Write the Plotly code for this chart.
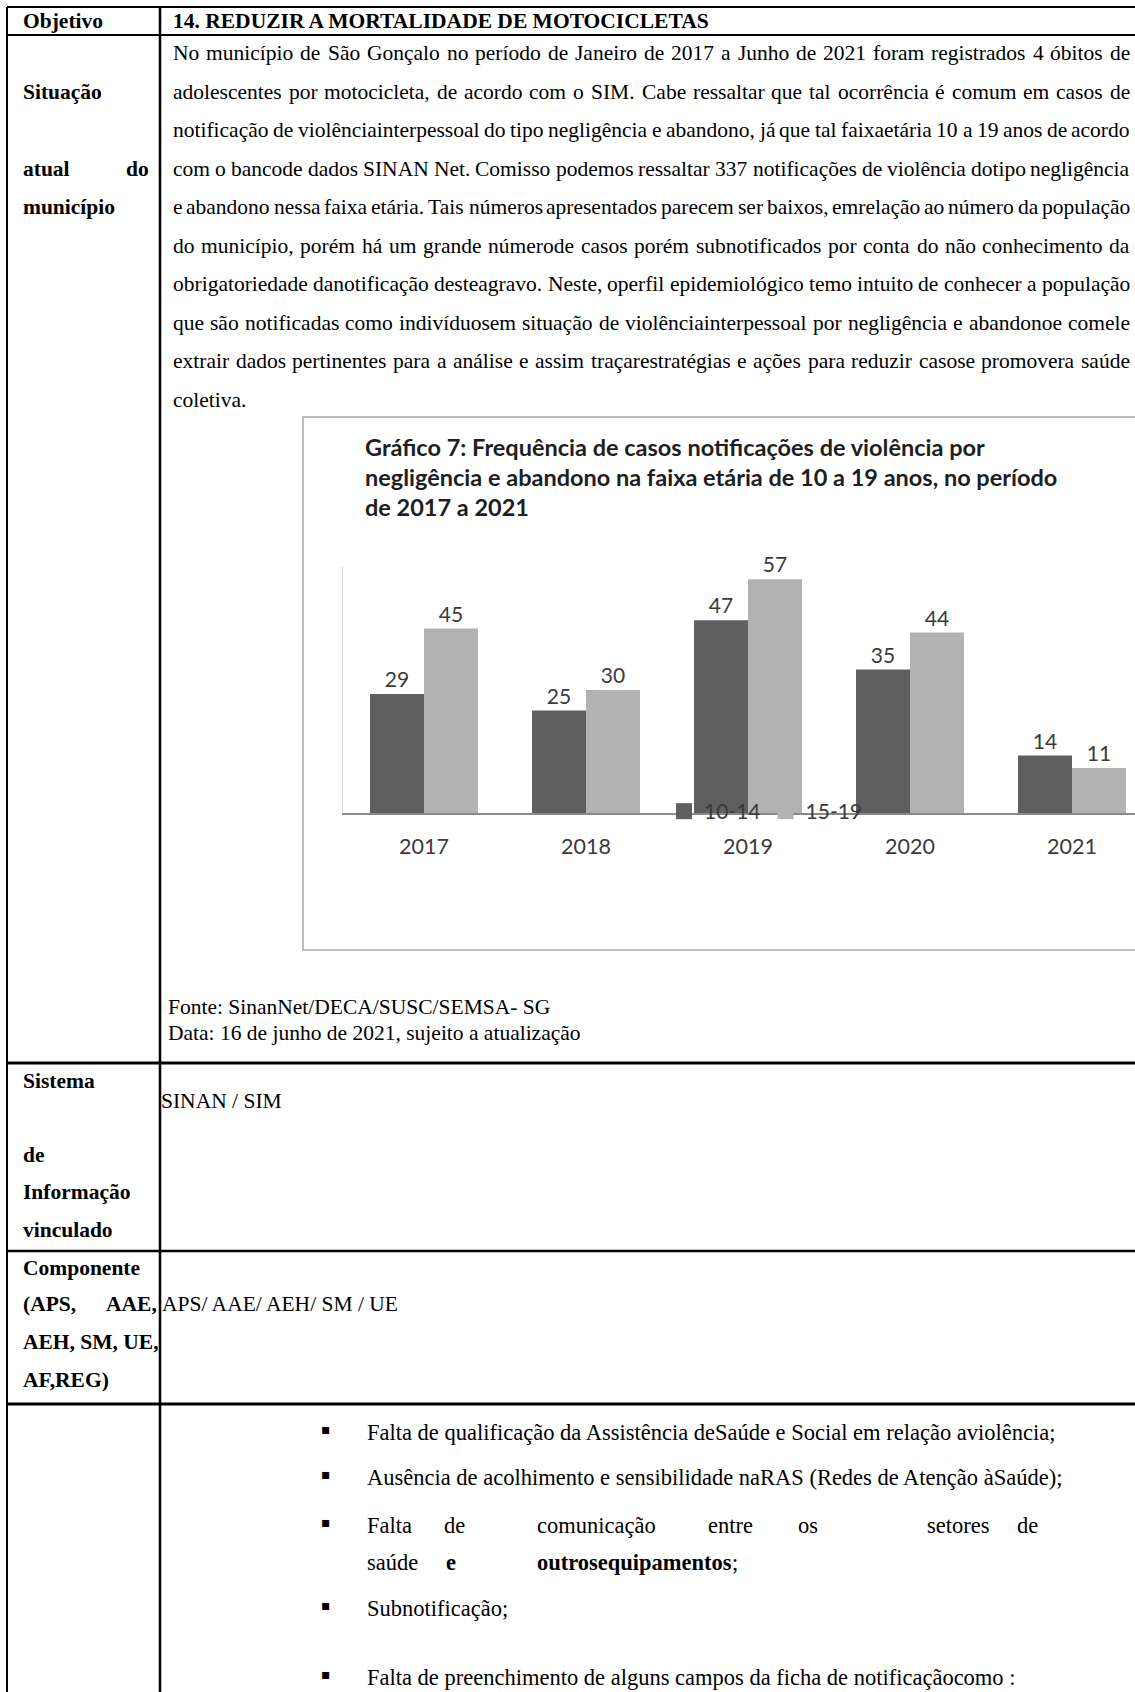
import unicodedata
import plotly.graph_objects as go

PAGE_W, PAGE_H = 1135, 1692

# ---------------- chart data ----------------
anos = ["2017", "2018", "2019", "2020", "2021"]
casos_10_14 = [29, 25, 47, 35, 14]
casos_15_19 = [45, 30, 57, 44, 11]
faixas = ["10-14", "15-19"]
titulo_grafico = [
    "Gráfico 7: Frequência de casos notificações de violência por",
    "negligência e abandono na faixa etária de 10 a 19 anos, no período",
    "de 2017 a 2021",
]

# ---------------- table text ----------------
rotulo_objetivo = "Objetivo"
texto_objetivo = "14. REDUZIR A MORTALIDADE DE MOTOCICLETAS"
rotulos_situacao = ["Situação", "atual do", "município"]
situacao_linhas = [
    "No município de São Gonçalo no período de Janeiro de 2017 a Junho de 2021 foram registrados 4 óbitos de",
    "adolescentes por motocicleta, de acordo com o SIM. Cabe ressaltar que tal ocorrência é comum em casos de",
    "notificação de violênciainterpessoal do tipo negligência e abandono, já que tal faixaetária 10 a 19 anos de acordo",
    "com o bancode dados SINAN Net. Comisso podemos ressaltar 337 notificações de violência dotipo negligência",
    "e abandono nessa faixa etária. Tais números apresentados parecem ser baixos, emrelação ao número da população",
    "do município, porém há um grande númerode casos porém subnotificados por conta do não conhecimento da",
    "obrigatoriedade danotificação desteagravo. Neste, operfil epidemiológico temo intuito de conhecer a população",
    "que são notificadas como indivíduosem situação de violênciainterpessoal por negligência e abandonoe comele",
    "extrair dados pertinentes para a análise e assim traçarestratégias e ações para reduzir casose promovera saúde",
    "coletiva.",
]
fonte_txt = "Fonte: SinanNet/DECA/SUSC/SEMSA- SG"
data_txt = "Data: 16 de junho de 2021, sujeito a atualização"
rotulos_sistema = ["Sistema", "de", "Informação", "vinculado"]
sistema_txt = "SINAN / SIM"
rotulos_componente = ["Componente", "(APS, AAE,", "AEH, SM, UE,", "AF,REG)"]
componente_txt = "APS/ AAE/ AEH/ SM / UE"
problemas = [
    "Falta de qualificação da Assistência deSaúde e Social em relação aviolência;",
    "Ausência de acolhimento e sensibilidade naRAS (Redes de Atenção àSaúde);",
    "Falta de comunicação entre os setores de",
    "Subnotificação;",
    "Falta de preenchimento de alguns campos da ficha de notificaçãocomo :",
]
problema_cont = [("saúde", False), ("e", True), ("outrosequipamentos", True), (";", False)]

# ---------------- Times advance widths (1/1000 em) ----------------
def _tabela(minusc, maiusc, extra):
    t = dict(zip("abcdefghijklmnopqrstuvwxyz", minusc))
    t.update(zip("ABCDEFGHIJKLMNOPQRSTUVWXYZ", maiusc))
    t.update({d: 500 for d in "0123456789"})
    t.update(extra)
    return t

TIMES_R = _tabela(
    [444, 500, 444, 500, 444, 333, 500, 500, 278, 278, 500, 278, 778, 500, 500, 500, 500, 333, 389, 278, 500, 500, 722, 500, 500, 444],
    [722, 667, 667, 722, 611, 556, 722, 722, 333, 389, 722, 611, 889, 722, 722, 556, 722, 667, 556, 611, 722, 722, 944, 722, 722, 611],
    {" ": 250, ",": 250, ".": 250, ":": 278, ";": 278, "/": 278, "-": 333, "(": 333, ")": 333},
)
TIMES_B = _tabela(
    [500, 556, 444, 556, 444, 333, 500, 556, 278, 333, 556, 278, 833, 556, 500, 556, 556, 444, 389, 333, 556, 500, 722, 500, 500, 444],
    [722, 667, 722, 722, 667, 611, 778, 778, 389, 500, 778, 667, 944, 722, 778, 611, 778, 722, 556, 667, 722, 722, 1000, 722, 722, 667],
    {" ": 250, ",": 250, ".": 250, ":": 333, ";": 333, "/": 278, "-": 333, "(": 333, ")": 333},
)


def largura(texto, tamanho, negrito=False):
    tab = TIMES_B if negrito else TIMES_R
    total = 0
    for ch in texto:
        base = unicodedata.normalize("NFD", ch)[0]
        total += tab.get(base, 500)
    return total * tamanho / 1000.0


SERIF = "Liberation Serif"
SANS = "Lato"
TS = 21.5          # body text size
TS_LBL = 21.5      # bold row labels
TS_BUL = 22.5      # bullet list size

annotations = []


def texto(x, y, s, size=TS, bold=False, anchor="left", family=SERIF, color="#000000"):
    annotations.append(dict(
        x=x, y=y, xref="x", yref="y", text=f"<b>{s}</b>" if bold else s,
        showarrow=False, xanchor=anchor, yanchor="middle",
        font=dict(family=family, size=size, color=color),
        borderpad=0, borderwidth=0,
    ))


def justificado(linha, x0, x1, y, size=TS, bold=False):
    palavras = linha.split()
    if len(palavras) == 1:
        texto(x0, y, palavras[0], size, bold)
        return
    ws = [largura(p, size, bold) for p in palavras]
    gap = (x1 - x0 - sum(ws)) / (len(palavras) - 1)
    x = x0
    for i, (p, w) in enumerate(zip(palavras, ws)):
        if i == len(palavras) - 1:
            texto(x1, y, p, size, bold, anchor="right")
        else:
            texto(x, y, p, size, bold)
        x += w + gap


# ---------------- table geometry ----------------
LEFT_X, COL_X, RIGHT_X = 7, 160, PAGE_W
LBL_X = 23
TXT_X, TXT_R = 173, 1130
TOP_Y, HEAD_Y = 7, 35
ROW2_Y, ROW3_Y, ROW4_Y = 1063, 1251, 1404

shapes = []


def linha(x0, y0, x1, y1, w=2, cor="#000000"):
    shapes.append(dict(type="line", xref="x", yref="y", x0=x0, y0=y0, x1=x1, y1=y1,
                       line=dict(color=cor, width=w)))


linha(LEFT_X, TOP_Y, RIGHT_X, TOP_Y, 2)
linha(LEFT_X, HEAD_Y, RIGHT_X, HEAD_Y, 2)
linha(LEFT_X, ROW2_Y, RIGHT_X, ROW2_Y, 3)
linha(LEFT_X, ROW3_Y, RIGHT_X, ROW3_Y, 2.5)
linha(LEFT_X, ROW4_Y, RIGHT_X, ROW4_Y, 3)
linha(LEFT_X, TOP_Y, LEFT_X, PAGE_H, 2)
linha(COL_X, TOP_Y, COL_X, PAGE_H, 2.5)

# header row
texto(LBL_X, 21, rotulo_objetivo, size=TS_LBL, bold=True)
texto(TXT_X, 21, texto_objetivo, bold=True)

# situation row
y_linhas = [53 + 38.5 * k for k in range(len(situacao_linhas))]
for i, s in enumerate(situacao_linhas):
    if i < len(situacao_linhas) - 1:
        justificado(s, TXT_X, TXT_R, y_linhas[i])
    else:
        texto(TXT_X, y_linhas[i], s)
texto(LBL_X, y_linhas[1], rotulos_situacao[0], size=TS_LBL, bold=True)
justificado(rotulos_situacao[1], LBL_X, 149, y_linhas[3], size=TS_LBL, bold=True)
texto(LBL_X, y_linhas[4], rotulos_situacao[2], size=TS_LBL, bold=True)

# embedded chart frame and title
BOX_L, BOX_T, BOX_B = 303, 417, 950
shapes.append(dict(type="rect", xref="x", yref="y", x0=BOX_L, y0=BOX_T, x1=PAGE_W + 30, y1=BOX_B,
                   line=dict(color="#a8a8a8", width=1.5), fillcolor="rgba(0,0,0,0)"))
for i, s in enumerate(titulo_grafico):
    texto(365, 447 + 30 * i, s, size=23.5, bold=True, family=SANS, color="#1e1e1e")

texto(168, 1007, fonte_txt)
texto(168, 1033, data_txt)

# information system row
texto(LBL_X, 1081, rotulos_sistema[0], size=TS_LBL, bold=True)
texto(LBL_X, 1155, rotulos_sistema[1], size=TS_LBL, bold=True)
texto(LBL_X, 1192, rotulos_sistema[2], size=TS_LBL, bold=True)
texto(LBL_X, 1230, rotulos_sistema[3], size=TS_LBL, bold=True)
texto(161, 1101, sistema_txt)

# component row
texto(LBL_X, 1268, rotulos_componente[0], size=TS_LBL, bold=True)
justificado(rotulos_componente[1], LBL_X, 157, 1304, size=TS_LBL, bold=True)
texto(LBL_X, 1342, rotulos_componente[2], size=TS_LBL, bold=True)
texto(LBL_X, 1380, rotulos_componente[3], size=TS_LBL, bold=True)
texto(162, 1304, componente_txt)

# problems list
BUL_X, BUL_TXT = 326, 367
y_bul = [1432, 1477, 1525, 1608, 1677]
x_comunicacao = [367, 444, 537, 708, 798, 927, 1017]
for yb, s in zip(y_bul, problemas):
    texto(BUL_X, yb - 3, "▪", size=14, family="DejaVu Sans", anchor="center")
    if s.startswith("Falta de comunicação"):
        for p, xp in zip(s.split(), x_comunicacao):
            texto(xp, yb, p, size=TS_BUL)
    else:
        texto(BUL_TXT, yb, s, size=TS_BUL)
x_cont = [367, 446, 537, 537 + largura("outrosequipamentos", TS_BUL, True)]
for (s, b), xw in zip(problema_cont, x_cont):
    texto(xw, 1562, s, size=TS_BUL, bold=b)

# ---------------- bar chart ----------------
PLOT_L, PLOT_B, PLOT_T = 343, 813, 567
CAT_W = 162
x_idx = list(range(len(anos)))
cores = ["#5f5f5f", "#b2b2b2"]

fig = go.Figure()
for nome, vals, cor in zip(faixas, [casos_10_14, casos_15_19], cores):
    fig.add_trace(go.Bar(
        name=nome, x=x_idx, y=vals, xaxis="x2", yaxis="y2",
        marker=dict(color=cor, line=dict(width=0)),
        text=[str(v) for v in vals], textposition="outside",
        textfont=dict(family=SANS, size=21, color="#3a3a3a"),
        cliponaxis=False, hoverinfo="skip", showlegend=False,
    ))
# legend keys with larger square swatches
for nome, cor in zip(faixas, cores):
    fig.add_trace(go.Scatter(
        name=nome, x=[None], y=[None], xaxis="x2", yaxis="y2", mode="markers",
        marker=dict(symbol="square", size=17, color=cor), hoverinfo="skip",
    ))

fig.update_layout(
    width=PAGE_W, height=PAGE_H,
    margin=dict(l=0, r=0, t=0, b=0),
    paper_bgcolor="white", plot_bgcolor="rgba(0,0,0,0)",
    barmode="group", bargap=1 / 3, bargroupgap=0,
    xaxis=dict(domain=[0, 1], range=[0, PAGE_W], visible=False, fixedrange=True),
    yaxis=dict(domain=[0, 1], range=[PAGE_H, 0], visible=False, fixedrange=True),
    xaxis2=dict(
        domain=[PLOT_L / PAGE_W, 1], anchor="y2",
        range=[-0.5, -0.5 + (PAGE_W - PLOT_L) / CAT_W],
        tickvals=x_idx, ticktext=anos, ticks="", showgrid=False, zeroline=False,
        showline=True, linecolor="#898989", linewidth=2,
        tickfont=dict(family=SANS, size=21.5, color="#3a3a3a"),
        ticklabelstandoff=13, fixedrange=True,
    ),
    yaxis2=dict(
        domain=[1 - PLOT_B / PAGE_H, 1 - PLOT_T / PAGE_H], anchor="x2",
        range=[0, 60], showticklabels=False, ticks="", showgrid=False, zeroline=False,
        showline=True, linecolor="#d4d4d4", linewidth=1.2, fixedrange=True,
    ),
    showlegend=True,
    legend=dict(
        orientation="h", x=664 / PAGE_W, xanchor="left",
        y=1 - 811.5 / PAGE_H, yanchor="middle",
        bgcolor="rgba(0,0,0,0)", font=dict(family=SANS, size=21, color="#3a3a3a"),
        itemwidth=30, itemsizing="trace", traceorder="normal",
    ),
    shapes=shapes,
    annotations=annotations,
)

fig.write_html("out.html", config={"displayModeBar": False})
